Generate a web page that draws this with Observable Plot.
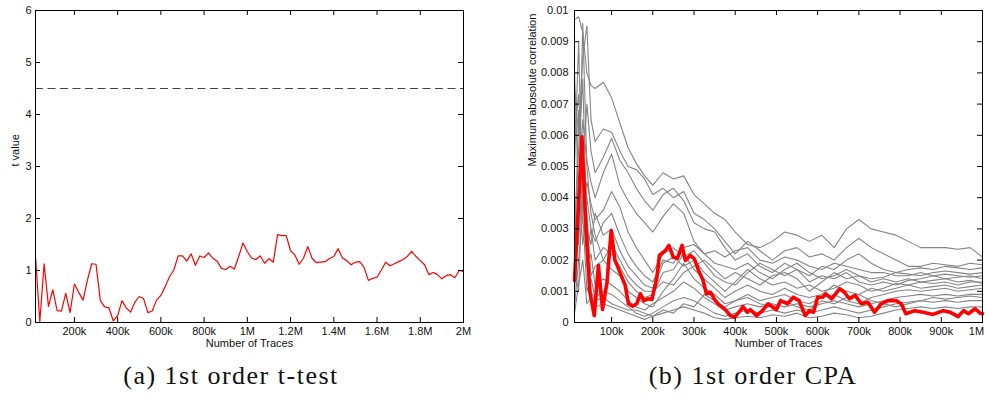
<!DOCTYPE html>
<html>
<head>
<meta charset="utf-8">
<script src="https://cdn.jsdelivr.net/npm/d3@7"></script>
<script src="https://cdn.jsdelivr.net/npm/@observablehq/plot@0.6"></script>
<style>
  html, body { margin: 0; padding: 0; background: #fff; }
  body { width: 987px; height: 401px; overflow: hidden; position: relative; font-family: "Liberation Sans", Arial, sans-serif; }
  #plotA { position: absolute; left: 0; top: 0; }
  #plotB { position: absolute; left: 490px; top: 0; }
  .cap { position: absolute; top: 363px; width: 400px; text-align: center; font-family: "Liberation Serif", "DejaVu Serif", serif; font-size: 26px; line-height: 26px; letter-spacing: 1.5px; color: #111; white-space: nowrap; }
</style>
</head>
<body>
<div id="plotA"></div>
<div id="plotB"></div>
<div class="cap" style="left:31px">(a) 1st order t-test</div>
<div class="cap" style="left:553px">(b) 1st order CPA</div>
<script>
// ---------- (a) 1st order t-test ----------
const tTracesK = [20,40,60,80,100,120,140,160,180,200,220,240,260,280,300,320,340,360,380,400,
  420,440,460,480,500,520,540,560,580,600,620,640,660,680,700,720,740,760,780,800,
  820,840,860,880,900,920,940,960,980,1000,1020,1040,1060,1080,1100,1120,1140,1160,1180,1200,
  1220,1240,1260,1280,1300,1320,1340,1360,1380,1400,1420,1440,1460,1480,1500,1520,1540,1560,1580,1600,
  1620,1640,1660,1680,1700,1720,1740,1760,1780,1800,1820,1840,1860,1880,1900,1920,1940,1960,1980,2000];
const tValues = [1.27,0.02,1.13,0.31,0.63,0.23,0.22,0.56,0.19,0.74,
  0.58,0.43,0.81,1.13,1.12,0.42,0.30,0.28,0.03,0.13,
  0.42,0.28,0.20,0.39,0.50,0.46,0.19,0.22,0.43,0.52,
  0.69,0.88,1.01,1.28,1.28,1.18,1.32,1.10,1.28,1.25,
  1.34,1.24,1.18,1.04,1.02,1.08,1.03,1.27,1.53,1.36,
  1.24,1.21,1.28,1.14,1.23,1.16,1.69,1.67,1.67,1.38,
  1.30,1.12,1.24,1.46,1.23,1.15,1.16,1.17,1.23,1.27,
  1.42,1.24,1.19,1.11,1.16,1.17,1.06,0.81,0.85,0.87,
  1.01,1.16,1.09,1.13,1.17,1.21,1.27,1.37,1.27,1.19,
  1.11,0.92,0.96,0.92,0.84,0.90,0.92,0.86,1.00,0.98];
const tThreshold = [4.5];
const xTicksA = [200000,400000,600000,800000,1000000,1200000,1400000,1600000,1800000,2000000];
const xLabelsA = ["200k","400k","600k","800k","1M","1.2M","1.4M","1.6M","1.8M","2M"];
const yTicksA = [0,1,2,3,4,5,6];
const yLabelsA = ["0","1","2","3","4","5","6"];

// ---------- (b) 1st order CPA ----------
// red: selected key (values in units of 0.001)
const redK = [10,19,28,38,47,58,68,78,89,99,108,117,133,141,151,161,170,178,189,198,
  210,216,230,239,250,260,271,279,291,301,311,322,330,340,352,363,376,388,399,409,
  419,429,437,452,466,480,500,510,527,541,555,570,580,590,600,612,620,634,653,665,
  677,691,706,722,738,754,771,791,803,814,836,856,880,905,921,941,954,966,982,994,1000];
const redMilli = [1.35,3.6,5.95,3.0,1.0,0.22,1.83,0.42,1.3,2.95,2.0,1.72,1.19,0.6,0.52,0.6,0.92,0.7,0.76,0.74,
  1.45,2.15,2.3,2.47,2.09,2.06,2.47,1.99,2.15,2.04,1.67,1.35,0.92,0.97,0.7,0.54,0.41,0.22,0.17,0.33,
  0.51,0.33,0.41,0.22,0.38,0.6,0.41,0.7,0.6,0.81,0.7,0.22,0.38,0.33,0.81,0.81,0.92,0.76,1.08,0.97,
  0.76,0.87,0.6,0.65,0.33,0.6,0.7,0.7,0.6,0.28,0.38,0.33,0.26,0.38,0.33,0.19,0.38,0.28,0.44,0.3,0.28];
// gray: wrong key hypotheses (values in units of 0.001)
const grayK = [10,20,30,40,50,60,80,100,120,140,160,180,200,225,250,275,300,325,350,375,400,430,460,490,520,550,580,610,640,670,700,730,760,790,820,850,880,910,940,970,1000];
const gray01 = [9.7,9.8,9.3,8.0,7.6,7.5,7.7,7.2,6.4,5.6,5.1,4.7,4.4,4.8,4.6,4.7,4.1,3.8,3.5,3.3,2.9,2.5,2.4,2.6,2.9,2.8,2.6,2.8,2.4,3.0,3.3,3.0,2.9,2.8,2.6,2.4,2.4,2.4,2.35,2.4,2.1];
const gray02 = [7.5,6.0,8.5,9.5,6.5,5.8,6.2,6.1,5.5,5.0,4.9,4.6,4.1,4.3,4.0,4.2,3.5,3.3,3.0,2.6,2.2,2.6,2.3,2.0,2.3,2.4,2.1,2.2,2.0,2.4,2.7,2.4,2.2,2.0,1.8,1.8,1.9,1.85,1.8,1.9,1.85];
const gray03 = [6.0,7.3,5.0,7.0,5.5,4.8,5.3,5.9,5.2,4.8,4.3,3.9,3.6,4.1,4.3,3.9,3.2,3.0,2.9,2.4,2.0,2.2,1.8,1.6,1.9,1.7,1.5,1.8,1.7,2.0,2.2,1.9,1.7,1.6,1.7,1.75,1.7,1.8,1.75,1.7,1.75];
const gray04 = [8.0,4.0,6.5,5.2,4.5,4.0,4.8,5.4,4.4,3.9,3.5,3.2,2.9,3.4,3.8,3.5,2.6,2.2,1.9,1.8,1.7,1.9,1.6,1.4,1.7,1.9,1.6,1.4,1.5,1.7,1.5,1.4,1.45,1.6,1.55,1.5,1.6,1.65,1.6,1.55,1.6];
const gray05 = [5.0,9.0,3.5,4.5,3.8,3.3,3.6,4.2,3.7,2.9,2.4,2.0,1.6,2.2,2.4,2.1,2.3,1.9,1.5,1.3,1.2,1.6,1.9,1.7,1.5,1.7,1.3,1.5,1.4,1.6,1.3,1.2,1.3,1.2,1.35,1.4,1.5,1.4,1.45,1.5,1.4];
const gray06 = [3.0,5.5,7.8,3.0,2.5,3.5,2.8,3.0,2.3,1.8,1.5,1.2,1.1,1.9,2.1,1.8,2.0,1.6,1.3,1.0,1.3,1.7,1.4,1.2,1.3,1.1,1.2,1.0,1.1,1.3,1.2,1.0,1.1,1.25,1.2,1.3,1.25,1.3,1.2,1.3,1.3];
const gray07 = [2.0,6.8,4.2,2.2,3.0,2.0,2.4,2.2,1.8,1.3,1.0,0.8,0.9,1.6,1.7,2.2,1.7,1.4,1.1,0.8,1.0,1.2,1.0,0.9,1.1,0.9,0.8,0.9,1.2,1.0,0.9,1.1,1.0,1.1,1.2,1.1,1.15,1.2,1.1,1.15,1.2];
const gray08 = [1.5,4.5,2.5,3.5,1.5,1.8,2.0,1.7,1.5,1.0,0.8,0.6,0.5,1.0,1.4,1.9,1.4,1.1,0.9,0.6,0.7,0.9,0.7,0.8,0.9,0.7,0.6,0.8,0.9,0.7,0.6,0.8,0.9,1.0,1.05,1.0,1.05,1.1,1.0,1.05,1.1];
const gray09 = [1.0,3.0,6.0,1.8,2.2,1.2,1.4,1.2,1.0,0.7,0.5,0.4,0.6,0.8,1.0,1.3,1.1,0.8,0.6,0.4,0.5,0.6,0.5,0.6,0.5,0.6,0.5,0.6,0.7,0.6,0.5,0.6,0.7,0.8,0.85,0.9,0.85,0.9,0.85,0.9,0.9];
const gray10 = [0.5,2.0,3.5,1.0,1.4,0.8,1.0,0.9,0.7,0.5,0.3,0.2,0.3,0.5,0.7,0.8,0.7,0.5,0.3,0.2,0.3,0.4,0.3,0.4,0.3,0.4,0.3,0.4,0.5,0.4,0.3,0.4,0.5,0.6,0.65,0.7,0.65,0.7,0.65,0.7,0.7];
const gray11 = [0.3,1.2,2.0,0.6,0.8,0.5,0.6,0.5,0.4,0.3,0.2,0.1,0.2,0.3,0.4,0.5,0.4,0.3,0.15,0.1,0.15,0.2,0.15,0.25,0.2,0.3,0.15,0.2,0.3,0.25,0.15,0.2,0.3,0.4,0.45,0.5,0.45,0.5,0.45,0.5,0.5];
const gray12 = [4.0,2.5,5.0,4.0,3.0,2.6,3.2,3.5,2.8,2.2,1.8,1.5,1.3,2.0,1.9,2.4,2.5,2.2,2.3,2.1,2.3,2.4,2.0,1.9,2.1,2.0,1.8,1.7,1.9,1.8,1.7,1.6,1.6,1.5,1.5,1.6,1.5,1.55,1.5,1.45,1.5];
const gray13 = [2.5,3.5,9.6,5.0,3.5,2.8,2.0,2.5,2.0,1.5,1.2,1.0,1.0,1.3,1.2,1.6,1.8,2.0,1.7,1.4,1.6,1.4,1.2,1.5,1.6,1.4,1.0,1.3,1.6,1.4,1.5,1.3,1.4,1.3,1.4,1.3,1.35,1.4,1.3,1.35,1.25];
const gray14 = [1.8,1.0,4.8,2.5,1.0,0.7,0.8,0.6,0.5,0.4,0.4,0.3,0.2,0.4,0.3,0.6,0.5,0.9,0.7,0.5,0.7,0.8,0.6,0.5,0.7,0.5,0.4,0.7,0.6,0.8,0.9,0.7,0.6,0.5,0.6,0.7,0.8,0.75,0.8,0.85,0.8];
const grayAll = [gray01,gray02,gray03,gray04,gray05,gray06,gray07,gray08,gray09,gray10,gray11,gray12,gray13,gray14];
const xTicksB = [100000,200000,300000,400000,500000,600000,700000,800000,900000,1000000];
const xLabelsB = ["100k","200k","300k","400k","500k","600k","700k","800k","900k","1M"];
const yTicksB = [0,0.001,0.002,0.003,0.004,0.005,0.006,0.007,0.008,0.009,0.01];
const yLabelsB = ["0","0.001","0.002","0.003","0.004","0.005","0.006","0.007","0.008","0.009","0.01"];

// ---------- build tables ----------
const tData = tTracesK.map((k, i) => ({x: k * 1000, y: tValues[i]}));
const redData = redK.map((k, i) => ({x: k * 1000, y: redMilli[i] / 1000}));
const grayData = [];
grayAll.forEach((arr, s) => arr.forEach((v, i) => grayData.push({x: grayK[i] * 1000, y: v / 1000, s})));

const fmt = (ticks, labels) => { const m = new Map(ticks.map((t, i) => [t, labels[i]])); return d => m.get(d) ?? ""; };
const baseStyle = {fontFamily: '"Liberation Sans", Arial, sans-serif', fontSize: "11px", background: "white", color: "#111"};
const TL = 5; // inward tick length (px)

// Plot (a)
const hA = 352, wA = 490, mlA = 35, mrA = 27, mtA = 10, mbA = 30;
const fwA = wA - mlA - mrA, fhA = hA - mtA - mbA;
const plotA = Plot.plot({
  width: wA, height: hA,
  marginLeft: mlA, marginRight: mrA, marginTop: mtA, marginBottom: mbA,
  style: baseStyle,
  x: {type: "linear", domain: [20000, 2000000], ticks: xTicksA, tickFormat: fmt(xTicksA, xLabelsA), tickSize: 0, tickPadding: 5, label: null},
  y: {domain: [0, 6], ticks: yTicksA, tickFormat: fmt(yTicksA, yLabelsA), tickSize: 0, tickPadding: 4, label: null},
  marks: [
    Plot.ruleY(tThreshold, {y: d => d, stroke: "#444", strokeWidth: 1.2, strokeDasharray: "8,4.5"}),
    Plot.line(tData, {x: "x", y: "y", stroke: "#ff0000", strokeWidth: 1.2}),
    Plot.tickX(xTicksA, {x: d => d, insetTop: fhA - TL, stroke: "#000"}),
    Plot.tickX(xTicksA, {x: d => d, insetBottom: fhA - TL, stroke: "#000"}),
    Plot.tickY(yTicksA, {y: d => d, insetRight: fwA - TL, stroke: "#000"}),
    Plot.tickY(yTicksA, {y: d => d, insetLeft: fwA - TL, stroke: "#000"}),
    Plot.frame({stroke: "#000", strokeWidth: 1}),
    Plot.text(["Number of Traces"], {text: d => d, frameAnchor: "bottom", dy: 24, fontSize: 11, fill: "#111"}),
    Plot.text(["t value"], {text: d => d, frameAnchor: "left", rotate: -90, dx: -20, fontSize: 11, fill: "#111"})
  ]
});
document.getElementById("plotA").appendChild(plotA);

// Plot (b)
const hB = 352, wB = 497, mlB = 84, mrB = 5, mtB = 10, mbB = 30;
const fwB = wB - mlB - mrB, fhB = hB - mtB - mbB;
const plotB = Plot.plot({
  width: wB, height: hB,
  marginLeft: mlB, marginRight: mrB, marginTop: mtB, marginBottom: mbB,
  style: baseStyle,
  x: {type: "linear", domain: [10000, 1000000], ticks: xTicksB, tickFormat: fmt(xTicksB, xLabelsB), tickSize: 0, tickPadding: 5, label: null},
  y: {domain: [0, 0.01], ticks: yTicksB, tickFormat: fmt(yTicksB, yLabelsB), tickSize: 0, tickPadding: 6, label: null},
  marks: [
    Plot.line(grayData, {x: "x", y: "y", z: "s", stroke: "#858585", strokeWidth: 1.1}),
    Plot.line(redData, {x: "x", y: "y", stroke: "#ff0000", strokeWidth: 3.6}),
    Plot.tickX(xTicksB, {x: d => d, insetTop: fhB - TL, stroke: "#000"}),
    Plot.tickX(xTicksB, {x: d => d, insetBottom: fhB - TL, stroke: "#000"}),
    Plot.tickY(yTicksB, {y: d => d, insetRight: fwB - TL, stroke: "#000"}),
    Plot.tickY(yTicksB, {y: d => d, insetLeft: fwB - TL, stroke: "#000"}),
    Plot.frame({stroke: "#000", strokeWidth: 1}),
    Plot.text(["Number of Traces"], {text: d => d, frameAnchor: "bottom", dy: 24, fontSize: 11, fill: "#111"}),
    Plot.text(["Maximum abosolute correlation"], {text: d => d, frameAnchor: "left", rotate: -90, dx: -42, fontSize: 11, fill: "#111"})
  ]
});
document.getElementById("plotB").appendChild(plotB);
// keep the last x tick label ("1M") inside the page edge
const xLabelNodes = Array.from(plotB.querySelectorAll("text")).filter(t => t.textContent === "1M");
xLabelNodes.forEach(t => t.setAttribute("dx", "-6"));
</script>
</body>
</html>
